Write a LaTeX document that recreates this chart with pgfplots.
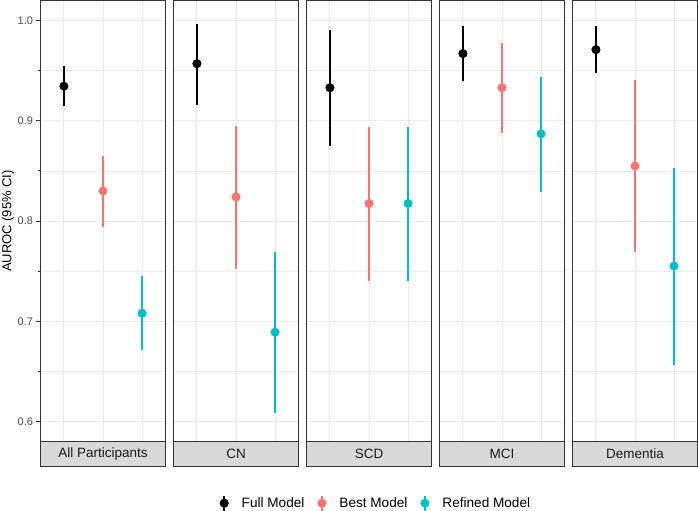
\documentclass[border=0pt]{standalone}
\usepackage{fontspec}
\setmainfont{Liberation Sans}
\usepackage{pgfplots}
\pgfplotsset{compat=1.18}
\definecolor{bestc}{HTML}{F8766D}
\definecolor{refc}{HTML}{00BFC4}
\definecolor{gridc}{HTML}{EBEBEB}
\definecolor{borderc}{HTML}{333333}
\definecolor{stripc}{HTML}{D9D9D9}
\definecolor{tickc}{HTML}{4D4D4D}
\definecolor{stript}{HTML}{1A1A1A}

\pgfplotsset{
  panel/.style={
    scale only axis, width=125bp, height=441bp,
    anchor=north west,
    xmin=0.4, xmax=3.6, ymin=0.58, ymax=1.02,
    xtick={1,2,3}, xticklabels={},
    ytick={0.6,0.7,0.8,0.9,1.0},
    minor ytick={0.65,0.75,0.85,0.95},
    grid=both,
    major grid style={draw=gridc, line width=0.9bp},
    minor grid style={draw=gridc, line width=0.5bp},
    axis line style={draw=borderc, line width=0.9bp},
    xtick style={draw=none},
    ytick style={draw=none},
    yticklabels={},
  },
  pr/.style={only marks, mark=*, mark size=4.3bp,
    mark options={fill=#1, draw=none},
    color=#1,
    error bars/.cd, y dir=both, y explicit, error mark=none,
    error bar style={line width=1.9bp, draw=#1},
    /pgfplots/.cd},
  lgimg/.style={legend image code/.code={
    \path[draw=none, fill=none] (-8bp,-8bp) rectangle (15.5bp,8bp);
    \draw[#1, line width=1.9bp] (0bp,-7.5bp) -- (0bp,7.5bp);
    \fill[#1] (0bp,0bp) circle (4.3bp);}},
}

\begin{document}
\begin{tikzpicture}
\useasboundingbox (0bp,0.5bp) rectangle (698bp,-510bp);

% Panel 1: All Participants
\begin{axis}[panel, name=a1, at={(40.5bp,0bp)},
  yticklabels={0.6,0.7,0.8,0.9,1.0},
  ytick style={draw=borderc, line width=0.9bp},
  tick align=outside, ytick pos=left, major tick length=4bp,
  yticklabel style={font=\fontsize{11bp}{13bp}\selectfont, text=tickc},
  /pgf/number format/assume math mode=true,
  ylabel={AUROC (95\%\ CI)},
  ylabel style={at={(rel axis cs:0,0.5)}, anchor=center, yshift=32.5bp,
    font=\fontsize{13bp}{15bp}\selectfont, text=black},
  legend columns=3,
  legend style={draw=none, fill=none, inner xsep=0pt, inner ysep=0pt,
    at={(rel axis cs:1.404,-0.1399)}, anchor=west,
    font=\fontsize{13.6bp}{16bp}\selectfont,
    nodes={inner sep=2bp},
    /tikz/every even column/.append style={column sep=7.5bp}},
  legend cell align=left,
]
\addplot[lgimg=black, pr=black] coordinates {(1,0.9345) += (0,0.0205) -= (0,0.0195)};
\addlegendentry{Full Model}
\addplot[lgimg=bestc, pr=bestc] coordinates {(2,0.830) += (0,0.035) -= (0,0.036)};
\addlegendentry{Best Model}
\addplot[lgimg=refc, pr=refc] coordinates {(3,0.708) += (0,0.037) -= (0,0.037)};
\addlegendentry{Refined Model}
\end{axis}

% Panel 2: CN
\begin{axis}[panel, name=a2, at={(173.5bp,0bp)}]
\addplot[pr=black] coordinates {(1,0.957) += (0,0.040) -= (0,0.041)};
\addplot[pr=bestc] coordinates {(2,0.824) += (0,0.071) -= (0,0.072)};
\addplot[pr=refc] coordinates {(3,0.689) += (0,0.080) -= (0,0.0805)};
\end{axis}

% Panel 3: SCD
\begin{axis}[panel, name=a3, at={(306.5bp,0bp)}]
\addplot[pr=black] coordinates {(1,0.933) += (0,0.058) -= (0,0.058)};
\addplot[pr=bestc] coordinates {(2,0.8175) += (0,0.0765) -= (0,0.0775)};
\addplot[pr=refc] coordinates {(3,0.8175) += (0,0.0765) -= (0,0.0775)};
\end{axis}

% Panel 4: MCI
\begin{axis}[panel, name=a4, at={(439.5bp,0bp)}]
\addplot[pr=black] coordinates {(1,0.967) += (0,0.028) -= (0,0.0275)};
\addplot[pr=bestc] coordinates {(2,0.933) += (0,0.045) -= (0,0.045)};
\addplot[pr=refc] coordinates {(3,0.887) += (0,0.057) -= (0,0.058)};
\end{axis}

% Panel 5: Dementia
\begin{axis}[panel, name=a5, at={(572.5bp,0bp)}]
\addplot[pr=black] coordinates {(1,0.971) += (0,0.024) -= (0,0.023)};
\addplot[pr=bestc] coordinates {(2,0.855) += (0,0.086) -= (0,0.086)};
\addplot[pr=refc] coordinates {(3,0.755) += (0,0.098) -= (0,0.099)};
\end{axis}

% Strips
\foreach \n/\lab in {a1/All Participants, a2/CN, a3/SCD, a4/MCI, a5/Dementia}{
  \draw[fill=stripc, draw=borderc, line width=0.9bp]
    (\n.south west) rectangle ([yshift=-25bp]\n.south east);
  \node[font=\fontsize{13.5bp}{16bp}\selectfont, text=stript, anchor=center]
    at ([yshift=-12.5bp]\n.south) {\lab};
}
\end{tikzpicture}
\end{document}
